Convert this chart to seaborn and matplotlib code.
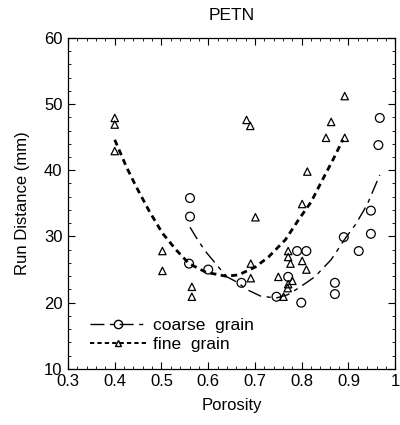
import matplotlib
matplotlib.use("Agg")
import matplotlib.pyplot as plt
from matplotlib.lines import Line2D
from matplotlib.ticker import MultipleLocator
import seaborn as sns
import pandas as pd

# coarse grain data (circles)
coarse_x = [0.561, 0.561, 0.559, 0.600, 0.671, 0.746, 0.771, 0.790, 0.810, 0.799,
            0.871, 0.871, 0.890, 0.922, 0.948, 0.948, 0.967, 0.964]
coarse_y = [35.8, 33.0, 25.9, 25.0, 23.0, 20.9, 23.9, 27.8, 27.8, 20.0,
            23.0, 21.3, 29.9, 27.8, 30.4, 33.9, 47.9, 43.8]

# fine grain data (triangles)
fine_x = [0.400, 0.400, 0.400, 0.502, 0.502, 0.565, 0.565, 0.682, 0.690, 0.691,
          0.691, 0.701, 0.750, 0.761, 0.770, 0.771, 0.771, 0.771, 0.776, 0.780,
          0.801, 0.801, 0.810, 0.812, 0.852, 0.863, 0.892, 0.892]
fine_y = [47.9, 46.9, 42.9, 27.8, 24.8, 22.4, 20.9, 47.6, 46.7, 25.9,
          23.7, 32.9, 23.9, 20.9, 22.2, 27.8, 26.9, 22.8, 25.9, 23.3,
          34.9, 26.3, 25.0, 39.8, 44.9, 47.3, 51.2, 44.9]

# fitted curves
coarse_fit_x = [0.561, 0.580, 0.597, 0.623, 0.640, 0.659, 0.685, 0.712, 0.745, 0.770,
                0.793, 0.828, 0.863, 0.894, 0.915, 0.940, 0.967]
coarse_fit_y = [31.4, 29.2, 27.5, 25.3, 23.9, 23.2, 21.9, 21.0, 20.7, 21.2,
                22.2, 23.9, 26.5, 29.8, 31.8, 34.8, 39.3]
fine_fit_x = [0.400, 0.425, 0.446, 0.474, 0.502, 0.531, 0.559, 0.595, 0.638, 0.665,
              0.701, 0.729, 0.765, 0.793, 0.820, 0.841, 0.867, 0.888]
fine_fit_y = [44.6, 40.5, 37.5, 33.8, 30.5, 28.0, 25.9, 24.6, 24.0, 24.2,
              25.4, 26.9, 29.5, 32.5, 35.2, 38.1, 41.6, 44.6]

x_ticks = [0.3, 0.4, 0.5, 0.6, 0.7, 0.8, 0.9, 1.0]
x_tick_labels = ["0.3", "0.4", "0.5", "0.6", "0.7", "0.8", "0.9", "1"]
y_ticks = [10, 20, 30, 40, 50, 60]

sns.set_theme(style="ticks")
plt.rcParams["font.family"] = ["Liberation Sans", "DejaVu Sans"]
plt.rcParams["text.color"] = "black"
plt.rcParams["axes.labelcolor"] = "black"
plt.rcParams["xtick.color"] = "black"
plt.rcParams["ytick.color"] = "black"

fig = plt.figure(figsize=(4.0, 4.25), dpi=100)
ax = fig.add_axes([0.17, 0.132, 0.818, 0.779])

coarse_fit = pd.DataFrame({"x": coarse_fit_x, "y": coarse_fit_y})
fine_fit = pd.DataFrame({"x": fine_fit_x, "y": fine_fit_y})
sns.lineplot(data=coarse_fit, x="x", y="y", sort=False, estimator=None, ax=ax,
             color="black", lw=1.0, linestyle=(0, (10, 4, 3, 4)))
sns.lineplot(data=fine_fit, x="x", y="y", sort=False, estimator=None, ax=ax,
             color="black", lw=2.0, linestyle=(0, (2.2, 1.6)))

coarse = pd.DataFrame({"x": coarse_x, "y": coarse_y})
fine = pd.DataFrame({"x": fine_x, "y": fine_y})
sns.scatterplot(data=coarse, x="x", y="y", ax=ax, marker="o", s=40,
                facecolor="none", edgecolor="black", linewidth=0.9)
sns.scatterplot(data=fine, x="x", y="y", ax=ax, marker="^", s=28,
                facecolor="none", edgecolor="black", linewidth=0.9)

ax.set_xlim(0.3, 1.0)
ax.set_ylim(10, 60)
ax.set_xticks(x_ticks)
ax.set_xticklabels(x_tick_labels)
ax.set_yticks(y_ticks)
ax.xaxis.set_minor_locator(MultipleLocator(0.02))
ax.yaxis.set_minor_locator(MultipleLocator(2))
ax.tick_params(which="both", direction="in", top=True, right=True, color="black")
ax.tick_params(which="major", length=5, width=0.8, labelsize=12, pad=4)
ax.tick_params(which="minor", length=2.5, width=0.6)
for s in ax.spines.values():
    s.set_linewidth(0.9)
    s.set_color("black")

ax.set_xlabel("Porosity", fontsize=12, labelpad=6)
ax.set_ylabel("Run Distance (mm)", fontsize=12, labelpad=10)
ax.set_title("PETN", fontsize=12.5, pad=13)

handles = [
    Line2D([], [], color="black", lw=1.0, linestyle=(0, (10, 4, 3, 4)), marker="o",
           markersize=6, markerfacecolor="none", markeredgecolor="black"),
    Line2D([], [], color="black", lw=1.4, linestyle=(0, (2.2, 1.6)), marker="^",
           markersize=5, markerfacecolor="none", markeredgecolor="black"),
]
ax.legend(handles, ["coarse  grain", "fine  grain"], loc="lower left",
          bbox_to_anchor=(0.02, 0.005), frameon=False, fontsize=12.5,
          handlelength=3.2, handletextpad=0.4, labelspacing=0.2, numpoints=1)

fig.savefig("out.png", dpi=100)
